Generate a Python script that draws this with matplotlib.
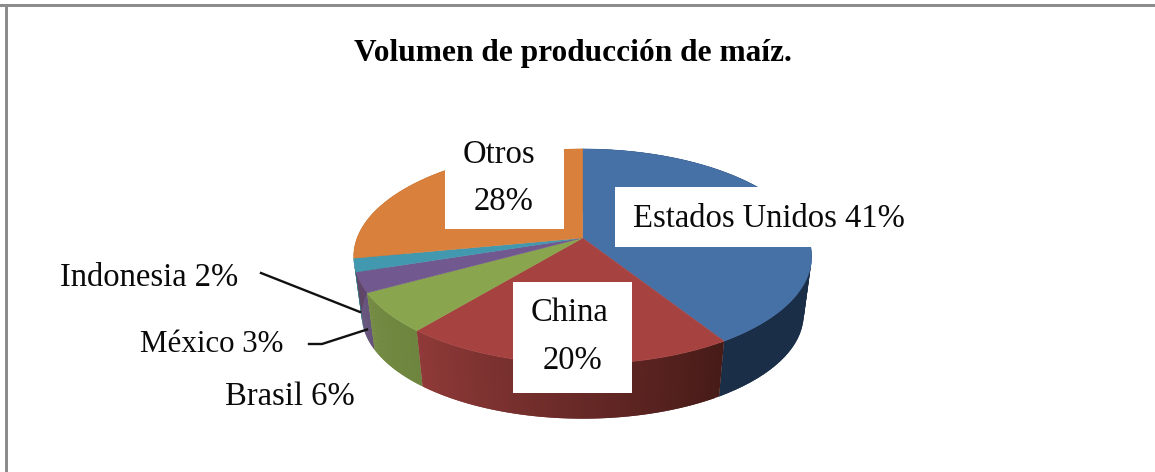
import numpy as np
import matplotlib
matplotlib.use('Agg')
import matplotlib.pyplot as plt
from matplotlib.colors import to_rgb
from matplotlib.patches import Rectangle

# pie values, clockwise from 12 o'clock
paises = ['Estados Unidos', 'China', 'Brasil', 'México', 'Indonesia', 'Otros']
valores = [41, 20, 6, 3, 2, 28]
titulo = 'Volumen de producción de maíz.'

colores = ['#4671A7', '#A64341', '#89A54E', '#71588F', '#4198AF', '#D9813C']
lado_izq = ['#1B2E47', '#8F3A38', '#738A42', '#5A4672', '#33798C', '#A8632D']
lado_der = ['#1B2E47', '#471B18', '#6E853F', '#5A4672', '#33798C', '#A8632D']

# perspective of the pie, in pixels
cx, cy = 582.7, 238
a, b, k = 225.6, 104.4, 0.172
escala_base, cy_base = 0.965, 297


def borde(t, escala=1.0, centro=cy):
    u, v = np.sin(t), np.cos(t)
    d = 1 + k * v
    return cx + escala * a * u / d, centro - escala * b * v / d


fig = plt.figure(figsize=(11.55, 4.72), dpi=100)
ax = fig.add_axes([0, 0, 1, 1])
ax.set_xlim(0, 1155)
ax.set_ylim(472, 0)
ax.axis('off')

# frame, only top and left
ax.add_patch(Rectangle((0, 4), 1155, 2.7, color='#8C8C8C', lw=0))
ax.add_patch(Rectangle((5, 4), 2.7, 468, color='#8C8C8C', lw=0))

limites = np.cumsum([0] + valores) / sum(valores) * 2 * np.pi

# side walls first, back ones before front ones, the top faces cover the rest
for i in [5, 4, 3, 2, 0, 1]:
    ts = np.linspace(limites[i], limites[i + 1], 60)
    x1, y1 = borde(ts)
    x2, y2 = borde(ts, escala_base, cy_base)
    c1, c2 = np.array(to_rgb(lado_izq[i])), np.array(to_rgb(lado_der[i]))
    for j in range(len(ts) - 1):
        f = j / (len(ts) - 2)
        # colour runs left to right on the wall, angles run right to left
        col = c2 * (1 - f) + c1 * f
        # each strip overlaps the next one so no seams show
        fin = min(j + 2, len(ts) - 1)
        ax.fill([x1[j], x1[fin], x2[fin], x2[j]],
                [y1[j], y1[fin], y2[fin], y2[j]],
                color=col, lw=0, zorder=2)

for i in range(len(valores)):
    ts = np.linspace(limites[i], limites[i + 1], 120)
    x1, y1 = borde(ts)
    ax.fill(np.r_[cx, x1], np.r_[cy, y1], color=colores[i], lw=0.3, zorder=3)

# white label boxes over the pie
ax.add_patch(Rectangle((445, 130), 119, 99, color='white', lw=0, zorder=4))
ax.add_patch(Rectangle((513, 282), 119, 111, color='white', lw=0, zorder=4))
ax.add_patch(Rectangle((615, 187), 197, 60, color='white', lw=0, zorder=4))

# leader lines
ax.plot([261, 360], [273, 312], color='#111111', lw=1.7, zorder=3.5)
ax.plot([309, 322, 367], [344, 344, 329.5], color='#111111', lw=1.7, zorder=3.5)

fuente = {'family': 'Liberation Serif', 'size': 23.5, 'color': '#0A0A0A', 'zorder': 5}
ax.text(633, 219, f'{paises[0]} {valores[0]}%', ha='left', va='center', **fuente)
ax.text(570, 313, paises[1], ha='center', va='center', **fuente)
ax.text(572, 361, f'{valores[1]}%', ha='center', va='center', **fuente)
ax.text(290, 397, f'{paises[2]} {valores[2]}%', ha='center', va='center', **fuente)
ax.text(212, 345, f'{paises[3]} {valores[3]}%', ha='center', va='center',
        **{**fuente, 'size': 22.3})
ax.text(149, 278, f'{paises[4]} {valores[4]}%', ha='center', va='center', **fuente)
ax.text(499, 155, paises[5], ha='center', va='center', **fuente)
ax.text(504, 202, f'{valores[5]}%', ha='center', va='center', **fuente)

ax.text(573, 54, titulo, ha='center', va='center', family='Liberation Serif',
        weight='bold', size=22.6, color='black')

fig.savefig('out.png', dpi=100)
